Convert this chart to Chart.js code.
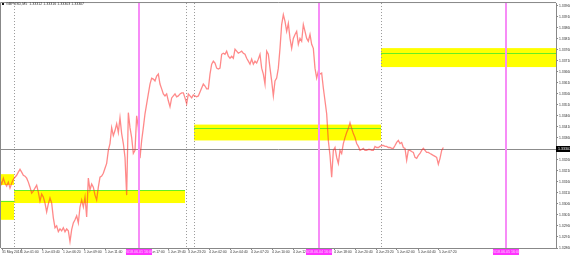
<!DOCTYPE html>
<html>
<head>
<meta charset="utf-8">
<script src="https://cdn.jsdelivr.net/npm/chart.js@4.4.1/dist/chart.umd.min.js"></script>
<style>
  html, body { margin: 0; padding: 0; background: #fff; }
  #wrap { width: 570px; height: 256px; }
</style>
</head>
<body>
<div id="wrap"><canvas id="chart" width="570" height="256"></canvas></div>
<script>
// header text and price series (one sample per bar step)
const symbolTitle = 'GBPUSD,M5  1.33312 1.33316 1.33303 1.33307';
const prices = [
  1.33168, 1.33150, 1.33177, 1.33154, 1.33141, 1.33159, 1.33132, 1.33154, 1.33172, 1.33181,
  1.33190, 1.33204, 1.33217, 1.33204, 1.33190, 1.33186, 1.33177, 1.33159, 1.33136, 1.33109,
  1.33118, 1.33132, 1.33145, 1.33114, 1.33073, 1.33105, 1.33091, 1.33064, 1.33024, 1.33060,
  1.33087, 1.33064, 1.32997, 1.32952, 1.32961, 1.32934, 1.32947, 1.32938, 1.32952, 1.32934,
  1.32947, 1.32938, 1.32889, 1.32943, 1.32974, 1.32988, 1.33006, 1.32974, 1.33046, 1.33078,
  1.33046, 1.33091, 1.33001, 1.33177, 1.33123, 1.33150, 1.33136, 1.33100, 1.33078, 1.33136,
  1.33181, 1.33186, 1.33199, 1.33222, 1.33244, 1.33303, 1.33334, 1.33406, 1.33370, 1.33393,
  1.33424, 1.33384, 1.33451, 1.33379, 1.33334, 1.33271, 1.33100, 1.33474, 1.33406, 1.33361,
  1.33289, 1.33303, 1.33460, 1.33406, 1.33267, 1.33348, 1.33406, 1.33469, 1.33514, 1.33559,
  1.33604, 1.33631, 1.33627, 1.33618, 1.33640, 1.33649, 1.33604, 1.33582, 1.33559, 1.33550,
  1.33559, 1.33528, 1.33501, 1.33541, 1.33550, 1.33559, 1.33546, 1.33550, 1.33559, 1.33564,
  1.33564, 1.33541, 1.33514, 1.33559, 1.33550, 1.33541, 1.33555, 1.33550, 1.33546, 1.33550,
  1.33568, 1.33586, 1.33604, 1.33595, 1.33582, 1.33582, 1.33649, 1.33694, 1.33708, 1.33699,
  1.33676, 1.33672, 1.33676, 1.33739, 1.33744, 1.33739, 1.33753, 1.33730, 1.33721, 1.33730,
  1.33721, 1.33762, 1.33753, 1.33744, 1.33748, 1.33753, 1.33744, 1.33739, 1.33721, 1.33708,
  1.33694, 1.33717, 1.33694, 1.33708, 1.33699, 1.33717, 1.33739, 1.33676, 1.33649, 1.33604,
  1.33753, 1.33739, 1.33676, 1.33618, 1.33550, 1.33618, 1.33631, 1.33676, 1.33766, 1.33874,
  1.33919, 1.33888, 1.33843, 1.33879, 1.33811, 1.33766, 1.33811, 1.33829, 1.33843, 1.33784,
  1.33811, 1.33798, 1.33874, 1.33843, 1.33811, 1.33798, 1.33829, 1.33784, 1.33766, 1.33676,
  1.33631, 1.33663, 1.33649, 1.33654, 1.33586, 1.33528, 1.33469, 1.33348, 1.33280, 1.33181,
  1.33303, 1.33316, 1.33271, 1.33244, 1.33303, 1.33289, 1.33334, 1.33361, 1.33384, 1.33402,
  1.33429, 1.33402, 1.33379, 1.33361, 1.33334, 1.33321, 1.33303, 1.33307, 1.33312, 1.33303,
  1.33303, 1.33307, 1.33307, 1.33303, 1.33303, 1.33321, 1.33316, 1.33316, 1.33321, 1.33325,
  1.33325, 1.33321, 1.33321, 1.33316, 1.33316, 1.33312, 1.33312, 1.33325, 1.33339, 1.33348,
  1.33334, 1.33339, 1.33316, 1.33312, 1.33258, 1.33303, 1.33303, 1.33298, 1.33294, 1.33271,
  1.33267, 1.33280, 1.33289, 1.33303, 1.33312, 1.33303, 1.33294, 1.33294, 1.33289, 1.33285,
  1.33280, 1.33276, 1.33271, 1.33240, 1.33267, 1.33303, 1.33316
];
const bidPrice = 1.33307;

// price axis labels (the one under the bid box is left out)
const priceTicks = [
  1.3396, 1.3391, 1.3386, 1.3381, 1.3376, 1.3371, 1.3366, 1.3361, 1.3356, 1.3351, 1.3346,
  1.3341, 1.3336, 1.3326, 1.3321, 1.3316, 1.3311, 1.3306, 1.3301, 1.3296, 1.3291, 1.3286
];

// time axis labels, at bar index positions
const timeTicks = [1.2, 12.6, 25.2, 37.8, 50.4, 63, 88.2, 100.8, 112.8, 125.4, 138,
  150.6, 163.2, 175.8, 200.4, 213, 225.6, 238.2, 250.8, 263.4];
const timeLabels = ['31 May 2018', '1 Jun 01:00', '1 Jun 03:40', '1 Jun 06:20', '1 Jun 09:00',
  '1 Jun 11:40', '1 Jun 17:00', '1 Jun 19:40', '3 Jun 23:20', '4 Jun 02:00', '4 Jun 04:40',
  '4 Jun 07:20', '4 Jun 10:00', '4 Jun 12:40', '4 Jun 18:00', '4 Jun 20:40', '4 Jun 23:20',
  '5 Jun 02:00', '5 Jun 04:40', '5 Jun 07:20'];

// period separators and vertical event lines
const daySeparators = [8.4, 111.6, 116.4, 228.6];
const eventLines = [83.4, 191.4, 303.6];
const eventLabels = ['2018.06.01 16:00', '2018.06.04 16:00', '2018.06.05 16:00'];

// supply / demand zones
const zoneFrom = [0.6, 0.6, 8.4, 116.4, 228.6];
const zoneTo = [8.4, 8.4, 111, 228.6, 333.6];
const zoneHigh = [1.33195, 1.33074, 1.33123, 1.33420, 1.33767];
const zoneLow = [1.33146, 1.32988, 1.33064, 1.33348, 1.33681];
const zoneLevel = [null, 1.33074, 1.33123, 1.33403, 1.33744];

const FONT = 'Liberation Sans';

const overlays = {
  id: 'overlays',
  beforeDatasetsDraw(chart) {
    const { ctx, chartArea: a, scales: { x, y } } = chart;
    ctx.save();
    ctx.beginPath();
    ctx.rect(a.left, a.top, a.right - a.left, a.bottom - a.top);
    ctx.clip();

    // zones
    ctx.fillStyle = '#ffff00';
    zoneFrom.forEach((f, i) => {
      const x0 = x.getPixelForValue(f), x1 = x.getPixelForValue(zoneTo[i]);
      const y0 = y.getPixelForValue(zoneHigh[i]), y1 = y.getPixelForValue(zoneLow[i]);
      ctx.fillRect(x0, y0, x1 - x0, y1 - y0);
    });
    ctx.strokeStyle = '#66ee22';
    ctx.lineWidth = 1;
    zoneLevel.forEach((lv, i) => {
      if (lv === null) return;
      const yy = Math.round(y.getPixelForValue(lv)) + 0.5;
      ctx.beginPath();
      ctx.moveTo(x.getPixelForValue(zoneFrom[i]), yy);
      ctx.lineTo(x.getPixelForValue(zoneTo[i]), yy);
      ctx.stroke();
    });

    // day separators
    ctx.strokeStyle = '#999';
    ctx.setLineDash([1, 2]);
    daySeparators.forEach(d => {
      const xx = Math.round(x.getPixelForValue(d)) + 0.5;
      ctx.beginPath();
      ctx.moveTo(xx, a.top);
      ctx.lineTo(xx, a.bottom);
      ctx.stroke();
    });
    ctx.setLineDash([]);

    // bid line
    const by = Math.round(y.getPixelForValue(bidPrice)) + 0.5;
    ctx.strokeStyle = '#8c8c8c';
    ctx.beginPath();
    ctx.moveTo(a.left, by);
    ctx.lineTo(a.right, by);
    ctx.stroke();
    ctx.restore();
  },
  afterDatasetsDraw(chart) {
    const { ctx, chartArea: a, scales: { x } } = chart;
    ctx.save();
    ctx.strokeStyle = '#f78cf7';
    ctx.lineWidth = 2;
    eventLines.forEach(e => {
      const xx = Math.round(x.getPixelForValue(e));
      ctx.beginPath();
      ctx.moveTo(xx, a.top);
      ctx.lineTo(xx, a.bottom);
      ctx.stroke();
    });
    ctx.restore();
  },
  afterDraw(chart) {
    const { ctx, chartArea: a, scales: { x, y } } = chart;
    ctx.save();
    // frame top and left
    ctx.strokeStyle = '#888';
    ctx.lineWidth = 1;
    ctx.beginPath();
    ctx.moveTo(a.left - 0.5, a.bottom);
    ctx.lineTo(a.left - 0.5, a.top - 0.5);
    ctx.lineTo(a.right, a.top - 0.5);
    ctx.stroke();

    // title
    ctx.fillStyle = '#111';
    ctx.fillRect(2, 3, 2, 2);
    ctx.font = '3.6px ' + FONT;
    ctx.textBaseline = 'middle';
    ctx.fillStyle = '#333';
    ctx.fillText(symbolTitle, 6, 4.2);

    // bid label on price axis
    const by = Math.round(y.getPixelForValue(bidPrice));
    ctx.fillStyle = '#000';
    ctx.fillRect(a.right, by - 3, 14, 6);
    ctx.fillStyle = '#fff';
    ctx.textAlign = 'left';
    ctx.fillText(bidPrice.toFixed(5), a.right + 2, by + 0.3);

    // event line labels on time axis
    eventLines.forEach((e, i) => {
      const xx = Math.round(x.getPixelForValue(e));
      ctx.fillStyle = '#ff33ff';
      ctx.fillRect(xx - 13, a.bottom + 1, 26, 6);
      ctx.fillStyle = '#ffd6ff';
      ctx.textAlign = 'center';
      ctx.fillText(eventLabels[i], xx, a.bottom + 4.2);
    });
    ctx.restore();
  }
};

new Chart(document.getElementById('chart'), {
  type: 'line',
  data: {
    datasets: [{
      data: prices.map((p, i) => ({ x: i, y: p })),
      borderColor: 'rgba(255, 40, 40, 0.55)',
      borderWidth: 1.3,
      pointRadius: 0,
      tension: 0
    }]
  },
  options: {
    responsive: false,
    animation: false,
    devicePixelRatio: 1,
    layout: { padding: { top: 1, left: 1, right: 0, bottom: 0 } },
    plugins: { legend: { display: false }, tooltip: { enabled: false } },
    scales: {
      x: {
        type: 'linear',
        min: 0.6,
        max: 333.6,
        afterBuildTicks: s => { s.ticks = timeTicks.map(v => ({ value: v })); },
        afterFit: s => { s.height = 8; },
        ticks: {
          autoSkip: false, maxRotation: 0, minRotation: 0, align: 'start', padding: 0,
          color: '#333', font: { size: 3.4, family: FONT },
          callback: (v, i) => timeLabels[i]
        },
        grid: { drawOnChartArea: false, tickLength: 2, color: '#888' },
        border: { color: '#888' }
      },
      y: {
        position: 'right',
        min: 1.3286,
        max: 1.339715,
        afterBuildTicks: s => { s.ticks = priceTicks.map(v => ({ value: v })); },
        afterFit: s => { s.width = 14; },
        ticks: {
          autoSkip: false, padding: 1,
          color: '#333', font: { size: 3.4, family: FONT },
          callback: v => v.toFixed(5)
        },
        grid: { drawOnChartArea: false, tickLength: 2, color: '#888' },
        border: { color: '#888' }
      }
    }
  },
  plugins: [overlays]
});
</script>
</body>
</html>
